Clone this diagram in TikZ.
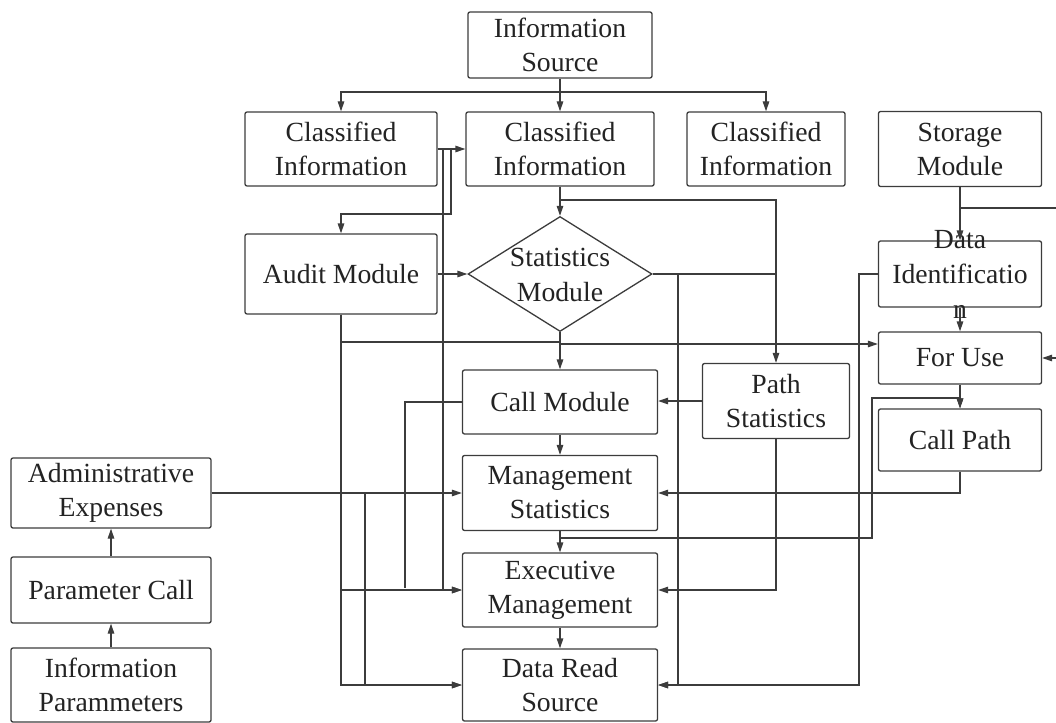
\documentclass[tikz,border=0pt]{standalone}
\usepackage{fontspec}
\setmainfont{Liberation Serif}
\usetikzlibrary{arrows.meta,shapes.geometric}
\definecolor{linecol}{RGB}{60,60,60}
\definecolor{textcol}{RGB}{35,35,35}
\tikzset{
  box/.style={draw=linecol, line width=1.3pt, rounded corners=2pt, fill=white,
              inner sep=0pt, align=center, text=textcol,
              font=\fontsize{27.7}{34}\selectfont},
  txt/.style={inner sep=0pt, align=center, text=textcol,
              font=\fontsize{27.7}{35}\selectfont},
  wire/.style={draw=linecol, line width=1.3pt},
  arr/.style={wire, -{Triangle[length=10pt,width=6.5pt]}},
}
\begin{document}
\begin{tikzpicture}[x=1pt,y=-1pt]
\useasboundingbox (0,0) rectangle (1056,722);

% top row
\node[box, minimum width=184pt, minimum height=66pt] (is)  at (560,45)  {Information\\Source};
\node[box, minimum width=192pt, minimum height=74pt] (ci1) at (341,149) {Classified\\Information};
\node[box, minimum width=188pt, minimum height=74pt] (ci2) at (560,149) {Classified\\Information};
\node[box, minimum width=158pt, minimum height=74pt] (ci3) at (766,149) {Classified\\Information};
\node[box, minimum width=163pt, minimum height=75pt] (sm)  at (960,149) {Storage\\Module};

% right column
\node[box, minimum width=163pt, minimum height=66pt] (di)  at (960,274) {};
\node[txt] at (960,274) {Data\\Identificatio\\n};
\node[box, minimum width=163pt, minimum height=52pt] (fu)  at (960,358) {For Use};
\node[box, minimum width=163pt, minimum height=62pt] (cp)  at (960,440) {Call Path};

% middle
\node[box, minimum width=192pt, minimum height=80pt] (am)  at (341,274) {Audit Module};
\node[draw=linecol, line width=1.3pt, fill=white, shape=diamond, inner sep=0pt,
      minimum width=184pt, minimum height=115pt] (stat) at (560,274) {};
\node[txt] at (560,275) {Statistics\\Module};
\node[box, minimum width=195pt, minimum height=64pt] (cm)  at (560,402) {Call Module};
\node[box, minimum width=147pt, minimum height=75pt] (ps)  at (776,401) {Path\\Statistics};
\node[box, minimum width=195pt, minimum height=75pt] (ms)  at (560,493) {Management\\Statistics};
\node[box, minimum width=195pt, minimum height=74pt] (em)  at (560,590) {Executive\\Management};
\node[box, minimum width=195pt, minimum height=72pt] (drs) at (560,685) {Data Read\\Source};

% left column
\node[box, minimum width=200pt, minimum height=70pt] (ae)  at (111,493) {Administrative\\Expenses};
\node[box, minimum width=200pt, minimum height=66pt] (pc)  at (111,590) {Parameter Call};
\node[box, minimum width=200pt, minimum height=74pt] (ip)  at (111,685) {Information\\Parammeters};

% junction points
\coordinate (j0) at (560,92);
\coordinate (ka) at (451,214);
\coordinate (kb) at (443,590);
\coordinate (kc) at (560,342);
\coordinate (ke) at (560,344);
\coordinate (kd) at (560,200);
\coordinate (kf) at (678,274);
\coordinate (kf2) at (775,274);
\coordinate (kg) at (405,588);
\coordinate (kh) at (560,538);
\coordinate (ki) at (872,398);
\coordinate (kj0) at (960,208);
\coordinate (kj) at (1064,208);
\coordinate (kk) at (859,274);
\coordinate (kl) at (365,493);

% information source fan-out
\draw[wire] (is.south) -- (j0);
\draw[arr] (j0) -| (ci1.north);
\draw[arr] (j0) -| (ci3.north);
\draw[arr] (j0) -- (ci2.north);

% classified information links
\draw[arr] (ci1.east) -- (ci2.west);
\draw[arr] (ci1.east) -| (ka) -| (am.north);
\draw[arr] (ci1.east) -| (kb) -- (em.west);
\draw[arr] (ci2.south) -- (stat.north);
\draw[arr] (ci2.south) -- (kd) -| (ps.north);

% audit module
\draw[arr] (am.east) -- (stat.west);
\draw[wire] (am.south) |- (kc);
\draw[arr] (am.south) |- (em.west);
\draw[arr] (am.south) |- (drs.west);

% statistics module
\draw[arr] (stat.south) -- (cm.north);
\draw[arr] (stat.south) -- (ke) -- (ke -| fu.west);
\draw[wire] (stat.east) -- (kf2);
\draw[arr] (stat.east) -- (kf) |- (drs.east);

% path statistics
\draw[arr] (ps.west) -- (ps.west -| cm.east);
\draw[arr] (ps.south) |- (em.east);

% central chain
\draw[wire] (cm.west) -| (kg);
\draw[arr] (cm.south) -- (ms.north);
\draw[arr] (ms.south) -- (em.north);
\draw[arr] (em.south) -- (drs.north);
\draw[arr] (ms.south) -- (kh) -| (ki) -| (cp.north);

% right column links
\draw[arr] (sm.south) -- (di.north);
\draw[arr] (sm.south) -- (kj0) -- (kj) |- (fu.east);
\draw[arr] (di.south) -- (fu.north);
\draw[arr] (fu.south) -- (cp.north);
\draw[arr] (cp.south) |- (ms.east);
\draw[arr] (di.west) -- (kk) |- (drs.east);

% left column links
\draw[arr] (ae.east) -- (ms.west);
\draw[arr] (ae.east) -- (kl) |- (drs.west);
\draw[arr] (pc.north) -- (ae.south);
\draw[arr] (ip.north) -- (pc.south);
\end{tikzpicture}
\end{document}
